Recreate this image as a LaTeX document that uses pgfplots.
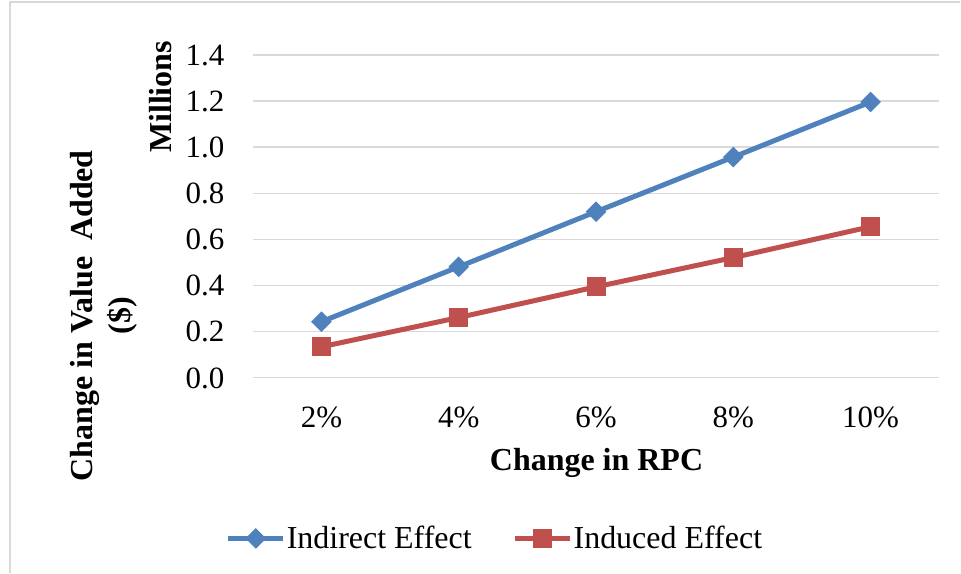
\documentclass[border=0pt]{standalone}
\usepackage{fontspec}
\setmainfont{Liberation Serif}
\usepackage{pgfplots}
\pgfplotsset{compat=1.18}

\definecolor{xlblue}{HTML}{4F81BD}
\definecolor{xlred}{HTML}{C0504D}
\definecolor{xlgrid}{HTML}{D9D9D9}

\begin{document}
\begin{tikzpicture}
\begin{axis}[
    scale only axis,
    width=343.5pt,
    height=161.5pt,
    clip=false,
    xmin=-0.5, xmax=4.5,
    ymin=0, ymax=1.4,
    xtick={0,1,2,3,4},
    xticklabels={2\%,4\%,6\%,8\%,10\%},
    ytick={0,0.2,...,1.4},
    axis line style={draw=none},
    major tick length=0pt,
    ymajorgrids,
    grid style={xlgrid, line width=0.75pt},
    tick label style={font=\fontsize{15.5}{18}\selectfont, text=black},
    xticklabel style={anchor=base, inner sep=0pt, yshift=-25pt},
    yticklabel style={anchor=base east, inner sep=0pt, xshift=-14pt, yshift=-5.2pt},
    /pgf/number format/.cd, fixed, fixed zerofill, precision=1, assume math mode=true,
    /pgfplots/.cd,
    legend columns=2,
    legend style={draw=none, fill=none, inner sep=0pt, outer sep=0pt,
        at={(rel axis cs:-0.0393,-0.498)}, anchor=west,
        nodes={inner sep=0pt, font=\fontsize{16}{18}\selectfont},
        /tikz/every odd column/.append style={column sep=0.5pt},
        /tikz/every even column/.append style={column sep=20.5pt}},
    legend image code/.code={\draw[#1, mark repeat=2, mark phase=2] plot coordinates {(0pt,0pt) (13.75pt,0pt) (27.5pt,0pt)};},
]
\addplot[xlblue, line width=2.5pt, mark=square*, mark size=3.4pt,
    mark options={rotate=45, line width=0.5pt, fill=xlblue}]
    coordinates {(0,0.243) (1,0.481) (2,0.720) (3,0.957) (4,1.196)};
\addlegendentry{Indirect Effect}
\addplot[xlred, line width=2.5pt, mark=square*, mark size=4.5pt,
    mark options={line width=0.5pt, fill=xlred}]
    coordinates {(0,0.134) (1,0.261) (2,0.394) (3,0.521) (4,0.655)};
\addlegendentry{Induced Effect}
\end{axis}
% titles
\node[font=\fontsize{16}{19}\selectfont\bfseries] at (172pt,-42.5pt) {Change in RPC};
\node[font=\fontsize{16}{19}\selectfont\bfseries, rotate=90] at (-46pt,140.5pt) {Millions};
\node[font=\fontsize{16}{19}\selectfont\bfseries, rotate=90, align=center] at (-74.5pt,31pt) {Change in Value\ \ Added\\(\$)};
% chart frame (left and top edges only show)
\draw[xlgrid, line width=0.75pt] (-121.5pt,-97.5pt) -- (-121.5pt,188pt) -- (354pt,188pt);
\path[use as bounding box] (-126.5pt,-97.5pt) rectangle (354pt,189pt);
\end{tikzpicture}
\end{document}
